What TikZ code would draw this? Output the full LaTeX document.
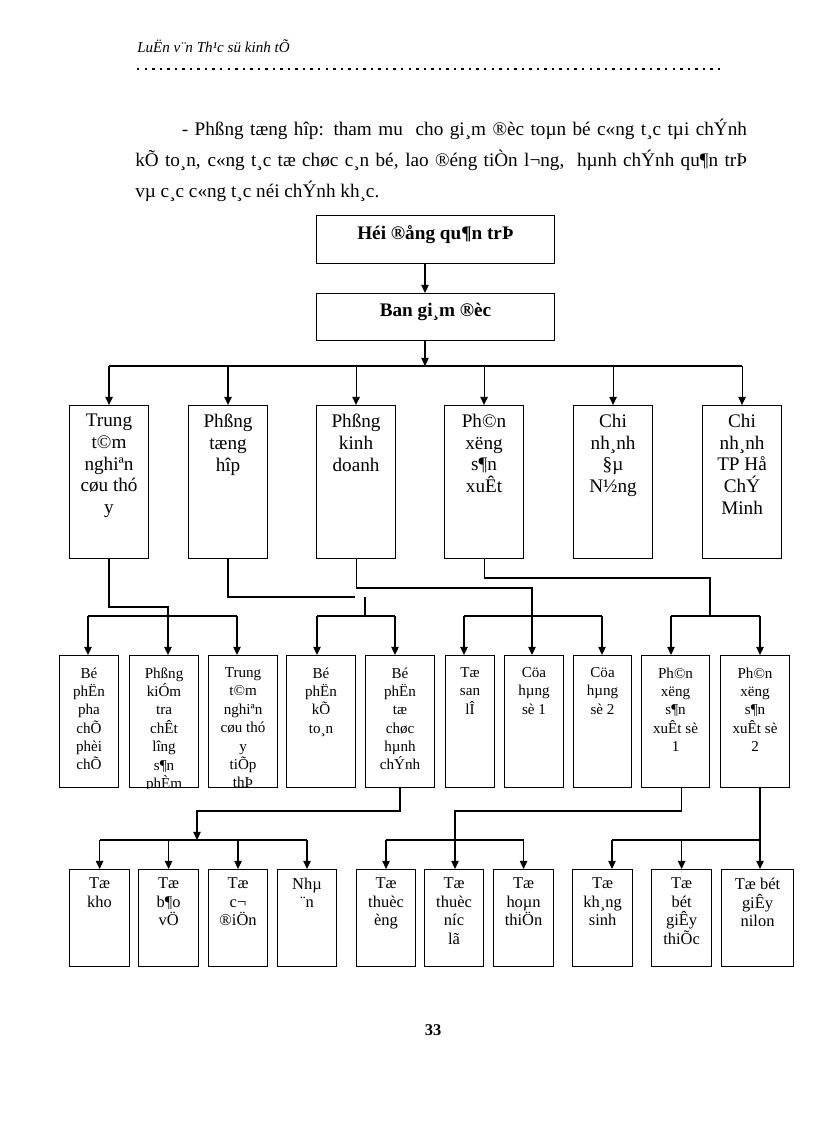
\documentclass[tikz,border=0pt]{standalone}
\usepackage{fontspec}
\setmainfont{Liberation Serif}
\usetikzlibrary{arrows.meta}

\begin{document}
\begin{tikzpicture}[x=0.7292pt, y=-0.7292pt,
  unit/.style={draw, line width=0.8pt, inner sep=0pt, anchor=north west},
  txt/.style={anchor=north, align=center, inner sep=0pt},
  head/.style={txt, font=\fontsize{14}{16}\selectfont\bfseries},
  rowone/.style={txt, font=\fontsize{14}{15.8}\selectfont},
  rowtwo/.style={txt, font=\fontsize{11}{13.4}\selectfont},
  rowthree/.style={txt, font=\fontsize{12}{13.4}\selectfont},
  link/.style={line width=0.8pt},
  arr/.style={link, -{Triangle[length=6pt,width=5.5pt]}}]

\useasboundingbox (0,0) rectangle (816,1123);

% page header and text
\node[anchor=base west, inner sep=0pt, font=\fontsize{11}{13}\selectfont\itshape] (header) at (137,53) {LuËn v¨n Th¹c sü kinh tÕ};
\coordinate (dotl) at (137,69);
\coordinate (dotr) at (725,69);
\draw[line width=1.8pt, dash pattern=on 1.8pt off 3.7pt] (dotl) -- (dotr);

\node[anchor=north west, text width=446pt, align=justify, inner sep=0pt, font=\fontsize{14}{22.6}\selectfont] (para) at (135,119) {\hspace*{34pt}- Phßng tæng hîp: tham mu\ \ cho gi¸m ®èc toµn bé c«ng t¸c tµi chÝnh\linebreak kÕ to¸n, c«ng t¸c tæ chøc c¸n bé, lao ®éng tiÒn l¬ng,\ \ hµnh chÝnh qu¶n trÞ\linebreak vµ c¸c c«ng t¸c néi chÝnh kh¸c.};

% top of the chart
\node[unit, minimum width=173.5pt, minimum height=35pt] (hdqt) at (316,215) {};
\node[head] (hdqt-t) at ([yshift=-7.5pt]hdqt.north) {Héi ®ång qu¶n trÞ};
\node[unit, minimum width=173.5pt, minimum height=34.3pt] (bgd) at (316,293) {};
\node[head] (bgd-t) at ([yshift=-7pt]bgd.north) {Ban gi¸m ®èc};

% first row
\node[unit, minimum width=57.6pt, minimum height=111.6pt] (ttnc) at (69,405) {};
\node[rowone] (ttnc-t) at ([yshift=-6.5pt]ttnc.north) {Trung\\t©m\\nghiªn\\cøu thó\\y};
\node[unit, minimum width=57.6pt, minimum height=111.6pt] (pth) at (188,405) {};
\node[rowone] (pth-t) at ([yshift=-6.5pt]pth.north) {Phßng\\tæng\\hîp};
\node[unit, minimum width=57.6pt, minimum height=111.6pt] (pkd) at (316,405) {};
\node[rowone] (pkd-t) at ([yshift=-6.5pt]pkd.north) {Phßng\\kinh\\doanh};
\node[unit, minimum width=57.6pt, minimum height=111.6pt] (pxsx) at (444,405) {};
\node[rowone] (pxsx-t) at ([yshift=-6.5pt]pxsx.north) {Ph©n\\xëng\\s¶n\\xuÊt};
\node[unit, minimum width=57.6pt, minimum height=111.6pt] (cndn) at (573,405) {};
\node[rowone] (cndn-t) at ([yshift=-6.5pt]cndn.north) {Chi\\nh¸nh\\§µ\\N½ng};
\node[unit, minimum width=57.6pt, minimum height=111.6pt] (cnhcm) at (702,405) {};
\node[rowone] (cnhcm-t) at ([yshift=-6.5pt]cnhcm.north) {Chi\\nh¸nh\\TP Hå\\ChÝ\\Minh};

% second row
\node[unit, minimum width=43pt, minimum height=96.3pt] (pha) at (59,655) {};
\node[rowtwo] (pha-t) at ([yshift=-9pt]pha.north) {Bé\\phËn\\pha\\chÕ\\phèi\\chÕ};
\node[unit, minimum width=50.3pt, minimum height=96.3pt] (kiem) at (129,655) {};
\begin{scope}
  \clip (kiem.south west) rectangle (kiem.north east);
  \node[rowtwo] (kiem-t) at ([yshift=-9pt]kiem.north) {Phßng\\kiÓm\\tra\\chÊt\\lîng\\s¶n\\phÈm};
\end{scope}
\node[unit, minimum width=50.3pt, minimum height=96.3pt] (ttty) at (208,655) {};
\begin{scope}
  \clip (ttty.south west) rectangle (ttty.north east);
  \node[rowtwo] (ttty-t) at ([yshift=-9pt]ttty.north) {Trung\\t©m\\nghiªn\\cøu thó\\y\\tiÕp\\thÞ};
\end{scope}
\node[unit, minimum width=50.3pt, minimum height=96.3pt] (ketoan) at (286,655) {};
\node[rowtwo] (ketoan-t) at ([yshift=-9pt]ketoan.north) {Bé\\phËn\\kÕ\\to¸n};
\node[unit, minimum width=50.3pt, minimum height=96.3pt] (tochuc) at (365,655) {};
\node[rowtwo] (tochuc-t) at ([yshift=-9pt]tochuc.north) {Bé\\phËn\\tæ\\chøc\\hµnh\\chÝnh};
\node[unit, minimum width=35.7pt, minimum height=96.3pt] (sanle) at (445,655) {};
\node[rowtwo] (sanle-t) at ([yshift=-9pt]sanle.north) {Tæ\\san\\lÎ};
\node[unit, minimum width=43pt, minimum height=96.3pt] (ch1) at (504,655) {};
\node[rowtwo] (ch1-t) at ([yshift=-9pt]ch1.north) {Cöa\\hµng\\sè 1};
\node[unit, minimum width=42.3pt, minimum height=96.3pt] (ch2) at (573,655) {};
\node[rowtwo] (ch2-t) at ([yshift=-9pt]ch2.north) {Cöa\\hµng\\sè 2};
\node[unit, minimum width=49.6pt, minimum height=96.3pt] (px1) at (641,655) {};
\node[rowtwo] (px1-t) at ([yshift=-9pt]px1.north) {Ph©n\\xëng\\s¶n\\xuÊt sè\\1};
\node[unit, minimum width=50.3pt, minimum height=96.3pt] (px2) at (720,655) {};
\node[rowtwo] (px2-t) at ([yshift=-9pt]px2.north) {Ph©n\\xëng\\s¶n\\xuÊt sè\\2};

% third row
\node[unit, minimum width=43.8pt, minimum height=70.7pt] (kho) at (69,869) {};
\node[rowthree] (kho-t) at ([yshift=-6.5pt]kho.north) {Tæ\\kho};
\node[unit, minimum width=43.8pt, minimum height=70.7pt] (baove) at (138,869) {};
\node[rowthree] (baove-t) at ([yshift=-6.5pt]baove.north) {Tæ\\b¶o\\vÖ};
\node[unit, minimum width=43pt, minimum height=70.7pt] (codien) at (208,869) {};
\node[rowthree] (codien-t) at ([yshift=-6.5pt]codien.north) {Tæ\\c¬\\®iÖn};
\node[unit, minimum width=43pt, minimum height=70.7pt] (nhaan) at (277,869) {};
\node[rowthree] (nhaan-t) at ([yshift=-6.5pt]nhaan.north) {Nhµ\\¨n};
\node[unit, minimum width=43pt, minimum height=70.7pt] (thuocong) at (356,869) {};
\node[rowthree] (thuocong-t) at ([yshift=-6.5pt]thuocong.north) {Tæ\\thuèc\\èng};
\node[unit, minimum width=43pt, minimum height=70.7pt] (nuocla) at (424,869) {};
\node[rowthree] (nuocla-t) at ([yshift=-6.5pt]nuocla.north) {Tæ\\thuèc\\níc\\lã};
\node[unit, minimum width=43.8pt, minimum height=70.7pt] (hoanthien) at (493,869) {};
\node[rowthree] (hoanthien-t) at ([yshift=-6.5pt]hoanthien.north) {Tæ\\hoµn\\thiÖn};
\node[unit, minimum width=43.8pt, minimum height=70.7pt] (khangsinh) at (572,869) {};
\node[rowthree] (khangsinh-t) at ([yshift=-6.5pt]khangsinh.north) {Tæ\\kh¸ng\\sinh};
\node[unit, minimum width=43.8pt, minimum height=70.7pt] (giaythiec) at (651,869) {};
\node[rowthree] (giaythiec-t) at ([yshift=-6.5pt]giaythiec.north) {Tæ\\bét\\giÊy\\thiÕc};
\node[unit, minimum width=52.5pt, minimum height=70.7pt] (giaynilon) at (721,869) {};
\node[rowthree] (giaynilon-t) at ([yshift=-6.5pt]giaynilon.north) {Tæ bét\\giÊy\\nilon};

\node[font=\fontsize{12}{14}\selectfont\bfseries] (page) at (433,1030) {33};

% board to first row
\coordinate (bus) at (425,366);
\draw[arr] (hdqt.south -| bus) -- (bgd.north -| bus);
\draw[arr] (bgd.south -| bus) -- (bus);
\draw[link] (bus -| ttnc.north) -- (bus -| cnhcm.north);
\draw[arr] (bus -| ttnc.north) -- (ttnc.north);
\draw[arr] (bus -| pth.north) -- (pth.north);
\draw[arr] (bus -| pkd.north) -- (pkd.north);
\draw[arr] (bus -| pxsx.north) -- (pxsx.north);
\draw[arr] (bus -| cndn.north) -- (cndn.north);
\draw[arr] (bus -| cnhcm.north) -- (cnhcm.north);

% first row to second row
\coordinate (ka) at (88,616);
\coordinate (kb) at (237,616);
\draw[link] (ka) -- (kb);
\draw[arr] (ka) -- (ka |- pha.north);
\draw[arr] (kb) -- (kb |- ttty.north);
\coordinate (j1) at (168,607);
\draw[arr] (ttnc.south) |- (j1) -- (j1 |- kiem.north);

\coordinate (kc) at (317,616);
\coordinate (kd) at (395,616);
\draw[link] (kc) -- (kd);
\draw[arr] (kc) -- (kc |- ketoan.north);
\draw[arr] (kd) -- (kd |- tochuc.north);
\coordinate (j2) at (355,597);
\draw[link] (pth.south) |- (j2);
\coordinate (j2b) at (365,597);
\draw[link] (j2b) -- (j2b |- kc);

\coordinate (ke) at (464,616);
\coordinate (kf) at (602,616);
\draw[link] (ke) -- (kf);
\draw[arr] (ke) -- (ke |- sanle.north);
\draw[arr] (kf) -- (kf |- ch2.north);
\coordinate (j3) at (532,588);
\draw[arr] (pkd.south) |- (j3) -- (j3 |- ch1.north);

\coordinate (kg) at (671,616);
\coordinate (kh) at (760,616);
\draw[link] (kg) -- (kh);
\draw[arr] (kg) -- (kg |- px1.north);
\draw[arr] (kh) -- (kh |- px2.north);
\coordinate (j4) at (710,578);
\draw[link] (pxsx.south) |- (j4) -- (j4 |- kg);

% second row to third row
\coordinate (ea) at (99,840);
\draw[link] (kho.north |- ea) -- (nhaan.north |- ea);
\draw[arr] (kho.north |- ea) -- (kho.north);
\draw[arr] (baove.north |- ea) -- (baove.north);
\draw[arr] (codien.north |- ea) -- (codien.north);
\draw[arr] (nhaan.north |- ea) -- (nhaan.north);
\coordinate (j5) at (197,811);
\draw[arr] (tochuc.south) |- (j5) -- (j5 |- ea);

\draw[link] (thuocong.north |- ea) -- (hoanthien.north |- ea);
\draw[arr] (thuocong.north |- ea) -- (thuocong.north);
\draw[arr] (hoanthien.north |- ea) -- (hoanthien.north);
\coordinate (j6) at (455,811);
\draw[arr] (px1.south -| giaythiec.north) |- (j6) -- (j6 |- nuocla.north);

\coordinate (g1) at (612,840);
\coordinate (g2) at (760,840);
\draw[link] (g1) -- (g2);
\draw[arr] (g1) -- (g1 |- khangsinh.north);
\draw[arr] (giaythiec.north |- g1) -- (giaythiec.north);
\draw[arr] (px2.south -| g2) -- (g2 |- giaynilon.north);
\end{tikzpicture}
\end{document}
